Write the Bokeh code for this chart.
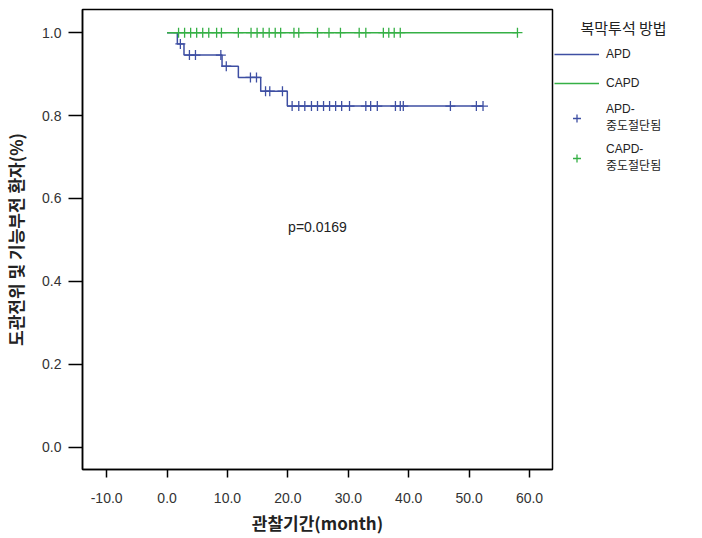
from bokeh.plotting import figure
from bokeh.layouts import row
from bokeh.models import Legend, LegendItem, Label, Title, FixedTicker, NumeralTickFormatter, Range1d
from bokeh.embed import file_html
from bokeh.resources import INLINE

# ---- data ----
apd_times = [0.0, 1.7, 2.8, 9.1, 11.8, 15.5, 19.9]
apd_surv = [1.0, 0.973, 0.946, 0.919, 0.892, 0.859, 0.823]
apd_end = 52.3
apd_censored = [2.2, 3.7, 4.7, 8.9, 9.8, 13.8, 14.8, 16.3, 17.0, 19.1,
                20.7, 21.8, 22.8, 23.9, 24.9, 25.9, 26.9, 27.9, 28.9, 30.2,
                32.9, 33.7, 34.8, 37.8, 38.6, 39.1, 46.9, 51.2, 52.3]

capd_times = [0.0]
capd_surv = [1.0]
capd_end = 58.0
capd_censored = [1.9, 2.9, 3.9, 4.9, 5.9, 6.9, 8.2, 9.0, 11.8,
                 13.9, 14.9, 15.9, 16.9, 17.9, 18.8, 21.0, 21.8,
                 24.9, 26.8, 28.7, 31.8, 32.9, 35.8, 36.7, 37.6, 38.6, 58.0]

x_ticks = [-10, 0, 10, 20, 30, 40, 50, 60]
y_ticks = [0.0, 0.2, 0.4, 0.6, 0.8, 1.0]
p_text = "p=0.0169"
p_pos = (24.9, 0.531)

group_title = "복막투석 방법"
series_names = ["APD", "CAPD"]
censor_names = ["APD-\n중도절단됨", "CAPD-\n중도절단됨"]
x_title = "관찰기간(month)"
y_title = "도관전위 및 기능부전 환자(%)"

BLUE = "#3E4FA3"
GREEN = "#35B045"
FONT = "'Liberation Sans', 'Noto Sans CJK KR', sans-serif"
KFONT = "'Noto Sans CJK KR', 'Liberation Sans', sans-serif"


def level_at(times, surv, t):
    lvl = surv[0]
    for ti, si in zip(times, surv):
        if t >= ti:
            lvl = si
    return lvl


p = figure(width=554, height=537, output_backend="svg", toolbar_location=None,
           x_range=Range1d(-14.0, 63.8), y_range=Range1d(-0.054, 1.056),
           min_border_left=82, min_border_top=9, min_border_right=2, min_border_bottom=67,
           background_fill_color="white", border_fill_color="white")
p.frame_align = False

p.grid.visible = False
p.outline_line_color = "black"
p.outline_line_width = 1.5

for ax in (p.xaxis, p.yaxis):
    ax.axis_line_color = "black"
    ax.axis_line_width = 1.5
    ax.major_tick_line_color = "black"
    ax.major_tick_line_width = 1.5
    ax.major_tick_in = 0
    ax.minor_tick_line_color = None
    ax.major_label_text_font = FONT
    ax.major_label_text_font_size = "14px"
    ax.major_label_text_color = "#333333"
    ax.formatter = NumeralTickFormatter(format="0.0")
    ax.axis_label_text_font = KFONT
    ax.axis_label_text_font_size = "17px"
    ax.axis_label_text_font_style = "bold"
    ax.axis_label_text_color = "#222222"

p.xaxis.ticker = FixedTicker(ticks=x_ticks)
p.yaxis.ticker = FixedTicker(ticks=y_ticks)
p.xaxis.major_tick_out = 8
p.yaxis.major_tick_out = 14
p.xaxis.major_label_standoff = 15
p.yaxis.major_label_standoff = 7
p.xaxis.axis_label = x_title
p.yaxis.axis_label = y_title
p.xaxis.axis_label_standoff = 4
p.yaxis.axis_label_standoff = 11

# step curves
apd_x = apd_times + [apd_end]
apd_y = apd_surv + [apd_surv[-1]]
capd_x = capd_times + [capd_end]
capd_y = capd_surv + [capd_surv[-1]]

p.step(apd_x, apd_y, mode="after", line_color=BLUE, line_width=1.5)
p.step(capd_x, capd_y, mode="after", line_color=GREEN, line_width=1.5)

apd_cy = [level_at(apd_times, apd_surv, t) for t in apd_censored]
capd_cy = [level_at(capd_times, capd_surv, t) for t in capd_censored]
p.scatter(apd_censored, apd_cy, marker="cross", size=10, line_color=BLUE, line_width=1.3)
p.scatter(capd_censored, capd_cy, marker="cross", size=10, line_color=GREEN, line_width=1.3)

p.add_layout(Label(x=p_pos[0], y=p_pos[1], text=p_text, text_align="center", text_baseline="middle",
                   text_font=FONT, text_font_size="14px", text_color="#222222"))

# ---- legend panel (separate figure to the right; its glyph proxies lie outside its view) ----
lg = figure(width=140, height=537, output_backend="svg", toolbar_location=None,
            x_range=Range1d(-1000, -999), y_range=Range1d(-1000, -999),
            x_axis_type=None, y_axis_type=None,
            min_border_left=0, min_border_right=0, min_border_top=44, min_border_bottom=0,
            outline_line_color=None, background_fill_color="white", border_fill_color="white")
lg.frame_align = False
lg.grid.visible = False
lg.title = Title(text=group_title, align="left", offset=26, standoff=13,
                 text_font=KFONT, text_font_size="15px", text_font_style="normal",
                 text_color="#222222")

l_apd = lg.step(apd_x, apd_y, mode="after", line_color=BLUE, line_width=1.5)
l_capd = lg.step(capd_x, capd_y, mode="after", line_color=GREEN, line_width=1.5)
l_apd_c = lg.scatter(apd_censored, apd_cy, marker="cross", size=14, line_color=BLUE, line_width=1.3)
l_capd_c = lg.scatter(capd_censored, capd_cy, marker="cross", size=14, line_color=GREEN, line_width=1.3)

legend = Legend(items=[
    LegendItem(label=series_names[0], renderers=[l_apd]),
    LegendItem(label=series_names[1], renderers=[l_capd]),
    LegendItem(label=censor_names[0], renderers=[l_apd_c]),
    LegendItem(label=censor_names[1], renderers=[l_capd_c]),
], location="top_left", margin=0, padding=6, spacing=9, glyph_width=45, glyph_height=20,
    label_standoff=7, label_text_font=FONT, label_text_font_size="12px",
    label_text_color="#222222", border_line_color=None, background_fill_alpha=0)
lg.add_layout(legend)

layout = row(p, lg)
open("out.html", "w").write(file_html(layout, INLINE))
